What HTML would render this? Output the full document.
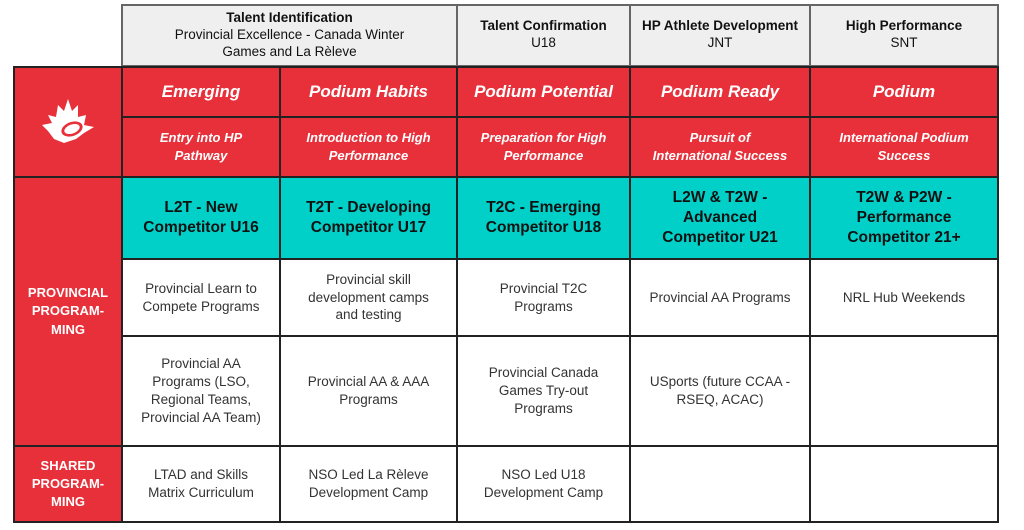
<!DOCTYPE html>
<html><head><meta charset="utf-8"><style>
body{margin:0;width:1024px;height:530px;background:#fff;position:relative;overflow:hidden;font-family:"Liberation Sans",sans-serif;}
.c{position:absolute;box-sizing:border-box;border:2px solid #222;display:flex;align-items:center;justify-content:center;text-align:center;line-height:1.35;}
.h{background:#efefef;border:2px solid #666;font-size:13.5px;color:#111;line-height:1.25}
.r{background:#e8303a;color:#fff;font-weight:bold;font-style:italic}
.t{font-size:17px}
.s{font-size:13px}
.g{background:#00d0c8;color:#111;font-weight:bold;font-size:15.5px;line-height:1.3}
.w{background:#fff;color:#333;font-size:13.5px;line-height:1.33}
.l{background:#e8303a;color:#fff;font-weight:bold;font-size:13px;line-height:1.4}
</style></head><body>
<div class="c h" style="left:121px;top:4px;width:337px;height:63px"><div><b>Talent Identification</b><br>Provincial Excellence - Canada Winter<br>Games and La Rèleve</div></div>
<div class="c h" style="left:456px;top:4px;width:175px;height:63px;align-items:flex-start;padding-top:12px"><div><b>Talent Confirmation</b><br>U18</div></div>
<div class="c h" style="left:629px;top:4px;width:182px;height:63px;align-items:flex-start;padding-top:12px"><div><b>HP Athlete Development</b><br>JNT</div></div>
<div class="c h" style="left:809px;top:4px;width:190px;height:63px;align-items:flex-start;padding-top:12px"><div><b>High Performance</b><br>SNT</div></div>

<div class="c r" style="left:13px;top:66px;width:110px;height:112px">
<svg width="60" height="50" viewBox="0 0 60 50"><path d="M4 28 L14 26 L10 18 L18 20 L20 8 L26 14 L30 2 L34 14 L40 8 L40 20 L48 18 L46 28 L56 30 L46 36 L38 42 L26 46 L16 42 L10 34 Z" fill="#fff"/><ellipse cx="34" cy="32" rx="11" ry="7" fill="#e8303a" transform="rotate(-20 34 32)"/><ellipse cx="34" cy="32" rx="8" ry="4.5" fill="#fff" transform="rotate(-20 34 32)"/></svg></div>
<div class="c l" style="left:13px;top:176px;width:110px;height:271px"><div>PROVINCIAL<br>PROGRAM-<br>MING</div></div>
<div class="c l" style="left:13px;top:445px;width:110px;height:78px"><div>SHARED<br>PROGRAM-<br>MING</div></div>

<div class="c r t" style="left:121px;top:66px;width:160px;height:52px">Emerging</div>
<div class="c r t" style="left:279px;top:66px;width:179px;height:52px">Podium Habits</div>
<div class="c r t" style="left:456px;top:66px;width:175px;height:52px">Podium Potential</div>
<div class="c r t" style="left:629px;top:66px;width:182px;height:52px">Podium Ready</div>
<div class="c r t" style="left:809px;top:66px;width:190px;height:52px">Podium</div>

<div class="c r s" style="left:121px;top:116px;width:160px;height:62px"><div>Entry into HP<br>Pathway</div></div>
<div class="c r s" style="left:279px;top:116px;width:179px;height:62px"><div>Introduction to High<br>Performance</div></div>
<div class="c r s" style="left:456px;top:116px;width:175px;height:62px"><div>Preparation for High<br>Performance</div></div>
<div class="c r s" style="left:629px;top:116px;width:182px;height:62px"><div>Pursuit of<br>International Success</div></div>
<div class="c r s" style="left:809px;top:116px;width:190px;height:62px"><div>International Podium<br>Success</div></div>

<div class="c g" style="left:121px;top:176px;width:160px;height:84px"><div>L2T - New<br>Competitor U16</div></div>
<div class="c g" style="left:279px;top:176px;width:179px;height:84px"><div>T2T - Developing<br>Competitor U17</div></div>
<div class="c g" style="left:456px;top:176px;width:175px;height:84px"><div>T2C - Emerging<br>Competitor U18</div></div>
<div class="c g" style="left:629px;top:176px;width:182px;height:84px"><div>L2W &amp; T2W -<br>Advanced<br>Competitor U21</div></div>
<div class="c g" style="left:809px;top:176px;width:190px;height:84px"><div>T2W &amp; P2W -<br>Performance<br>Competitor 21+</div></div>

<div class="c w" style="left:121px;top:258px;width:160px;height:79px"><div>Provincial Learn to<br>Compete Programs</div></div>
<div class="c w" style="left:279px;top:258px;width:179px;height:79px"><div>Provincial skill<br>development camps<br>and testing</div></div>
<div class="c w" style="left:456px;top:258px;width:175px;height:79px"><div>Provincial T2C<br>Programs</div></div>
<div class="c w" style="left:629px;top:258px;width:182px;height:79px"><div>Provincial AA Programs</div></div>
<div class="c w" style="left:809px;top:258px;width:190px;height:79px"><div>NRL Hub Weekends</div></div>

<div class="c w" style="left:121px;top:335px;width:160px;height:112px"><div>Provincial AA<br>Programs (LSO,<br>Regional Teams,<br>Provincial AA Team)</div></div>
<div class="c w" style="left:279px;top:335px;width:179px;height:112px"><div>Provincial AA &amp; AAA<br>Programs</div></div>
<div class="c w" style="left:456px;top:335px;width:175px;height:112px"><div>Provincial Canada<br>Games Try-out<br>Programs</div></div>
<div class="c w" style="left:629px;top:335px;width:182px;height:112px"><div>USports (future CCAA -<br>RSEQ, ACAC)</div></div>
<div class="c w" style="left:809px;top:335px;width:190px;height:112px"></div>

<div class="c w" style="left:121px;top:445px;width:160px;height:78px"><div>LTAD and Skills<br>Matrix Curriculum</div></div>
<div class="c w" style="left:279px;top:445px;width:179px;height:78px"><div>NSO Led La Rèleve<br>Development Camp</div></div>
<div class="c w" style="left:456px;top:445px;width:175px;height:78px"><div>NSO Led U18<br>Development Camp</div></div>
<div class="c w" style="left:629px;top:445px;width:182px;height:78px"></div>
<div class="c w" style="left:809px;top:445px;width:190px;height:78px"></div>
</body></html>
